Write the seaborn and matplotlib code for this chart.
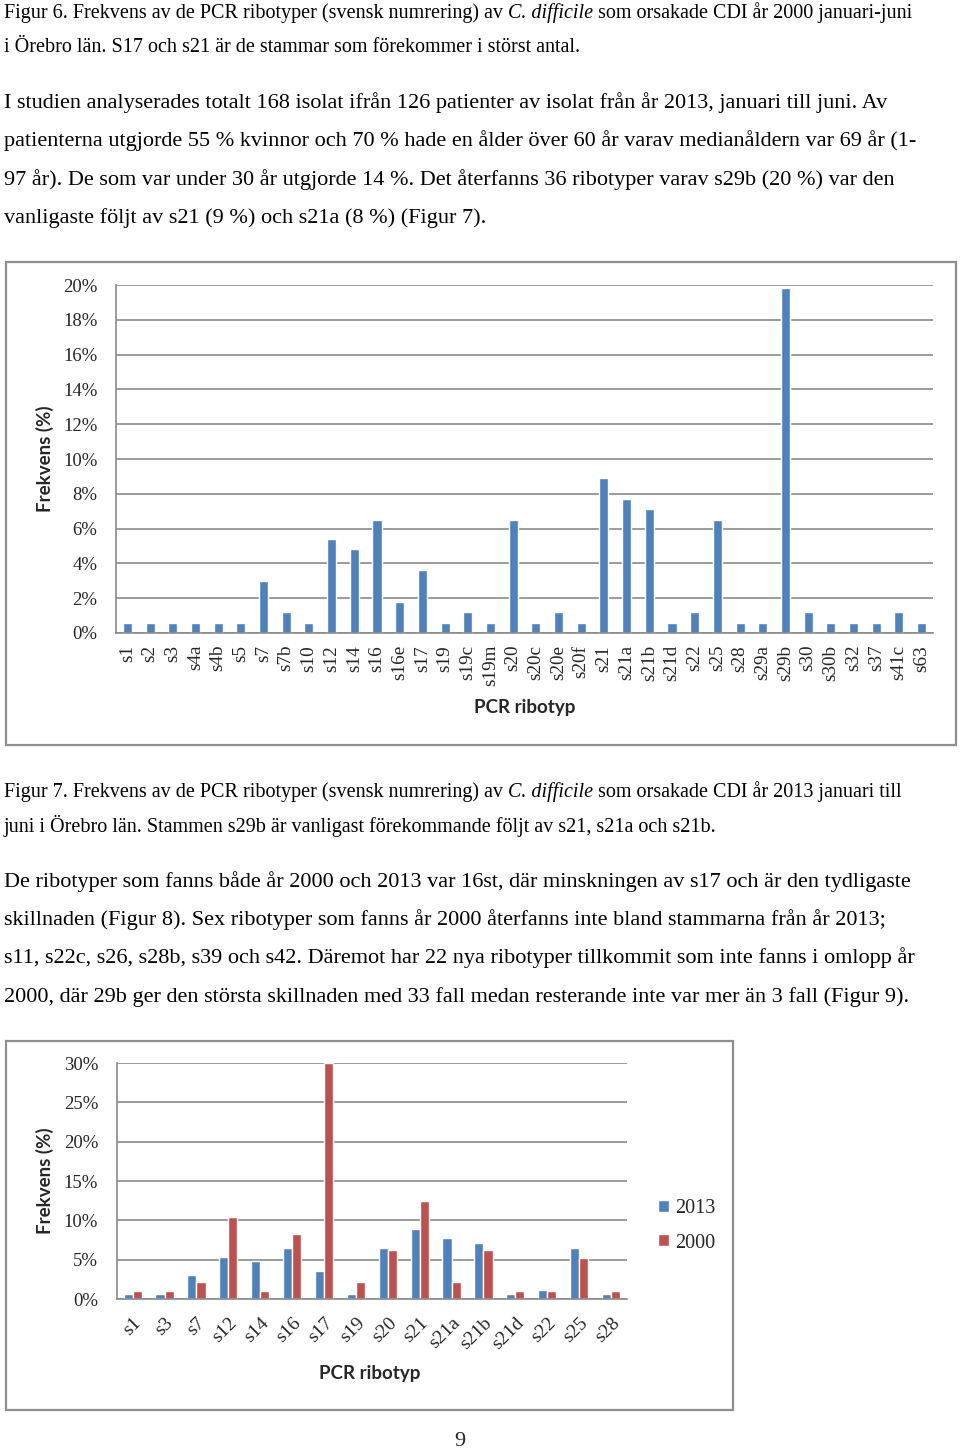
import numpy as np
import pandas as pd
import matplotlib
matplotlib.use("Agg")
import matplotlib.pyplot as plt
import seaborn as sns
from matplotlib.patches import Rectangle
from matplotlib.ticker import FuncFormatter

# ---------------- data ----------------
ribotypes_2013 = ["s1", "s2", "s3", "s4a", "s4b", "s5", "s7", "s7b", "s10", "s12",
                  "s14", "s16", "s16e", "s17", "s19", "s19c", "s19m", "s20", "s20c",
                  "s20e", "s20f", "s21", "s21a", "s21b", "s21d", "s22", "s25", "s28",
                  "s29a", "s29b", "s30", "s30b", "s32", "s37", "s41c", "s63"]
freq_2013 = [0.6, 0.6, 0.6, 0.6, 0.6, 0.6, 3.0, 1.2, 0.6, 5.4,
             4.8, 6.5, 1.8, 3.6, 0.6, 1.2, 0.6, 6.5, 0.6,
             1.2, 0.6, 8.9, 7.7, 7.1, 0.6, 1.2, 6.5, 0.6,
             0.6, 19.8, 1.2, 0.6, 0.6, 0.6, 1.2, 0.6]

common_ribotypes = ["s1", "s3", "s7", "s12", "s14", "s16", "s17", "s19", "s20",
                    "s21", "s21a", "s21b", "s21d", "s22", "s25", "s28"]
common_2013 = [0.6, 0.6, 3.0, 5.4, 4.8, 6.5, 3.6, 0.6, 6.5, 8.9, 7.7, 7.1, 0.6, 1.2, 6.5, 0.6]
common_2000 = [1.0, 1.0, 2.1, 10.4, 1.0, 8.3, 30.0, 2.1, 6.2, 12.5, 2.1, 6.2, 1.0, 1.0, 5.2, 1.0]
years = ["2013", "2000"]

yticks_fig7 = [0, 2, 4, 6, 8, 10, 12, 14, 16, 18, 20]
yticks_fig8 = [0, 5, 10, 15, 20, 25, 30]

# ---------------- style ----------------
sns.set_style("white")
SERIF = "Liberation Serif"
SANS = "Lato"
plt.rcParams["font.family"] = [SERIF, "DejaVu Serif"]

BLUE = "#4F81BD"
RED = "#C0504D"
GRID = "#8a8a8a"
FRAME = "#8f8f8f"

W, H = 960, 1452
fig = plt.figure(figsize=(W / 100, H / 100), dpi=100)
fig.patch.set_facecolor("white")
renderer = fig.canvas.get_renderer()


def fx(px):
    return px / W


def fy(py):
    return 1 - py / H


# ---------------- page text ----------------
def text_width(s, size, style="normal"):
    t = fig.text(0, 0, s, fontsize=size, fontstyle=style, family=SERIF)
    w = t.get_window_extent(renderer).width
    t.remove()
    return w


def fit_size(s, target):
    w = text_width(s, 10)
    return 10 * target / w


def draw_line(y_base, segments, size):
    x = 4.0
    space = text_width("a a", size) - text_width("aa", size)
    for txt, style in segments:
        if txt.startswith(" "):
            x += space
        t = fig.text(fx(x), fy(y_base), txt.strip(), fontsize=size, fontstyle=style,
                     family=SERIF, va="baseline", ha="left", color="black")
        x = t.get_window_extent(renderer).x1
        if txt.endswith(" "):
            x += space


cap_size = fit_size("juni i Örebro län. Stammen s29b är vanligast förekommande följt av s21, s21a och s21b.", 713)
body_size = fit_size("I studien analyserades totalt 168 isolat ifrån 126 patienter av isolat från år 2013, januari till juni. Av", 886)

draw_line(18, [("Figur 6. Frekvens av de PCR ribotyper (svensk numrering) av ", "normal"),
               ("C. difficile", "italic"),
               (" som orsakade CDI år 2000 januari-juni", "normal")], cap_size)
draw_line(52, [("i Örebro län. S17 och s21 är de stammar som förekommer i störst antal.", "normal")], cap_size)

draw_line(108, [("I studien analyserades totalt 168 isolat ifrån 126 patienter av isolat från år 2013, januari till juni. Av", "normal")], body_size)
draw_line(146, [("patienterna utgjorde 55 % kvinnor och 70 % hade en ålder över 60 år varav medianåldern var 69 år (1-", "normal")], body_size)
draw_line(185, [("97 år). De som var under 30 år utgjorde 14 %. Det återfanns 36 ribotyper varav s29b (20 %) var den", "normal")], body_size)
draw_line(223, [("vanligaste följt av s21 (9 %) och s21a (8 %) (Figur 7).", "normal")], body_size)

draw_line(797, [("Figur 7. Frekvens av de PCR ribotyper (svensk numrering) av ", "normal"),
                ("C. difficile", "italic"),
                (" som orsakade CDI år 2013 januari till", "normal")], cap_size)
draw_line(832, [("juni i Örebro län. Stammen s29b är vanligast förekommande följt av s21, s21a och s21b.", "normal")], cap_size)

draw_line(887, [("De ribotyper som fanns både år 2000 och 2013 var 16st, där minskningen av s17 och är den tydligaste", "normal")], body_size)
draw_line(925, [("skillnaden (Figur 8). Sex ribotyper som fanns år 2000 återfanns inte bland stammarna från år 2013;", "normal")], body_size)
draw_line(963, [("s11, s22c, s26, s28b, s39 och s42. Däremot har 22 nya ribotyper tillkommit som inte fanns i omlopp år", "normal")], body_size)
draw_line(1002, [("2000, där 29b ger den största skillnaden med 33 fall medan resterande inte var mer än 3 fall (Figur 9).", "normal")], body_size)

fig.text(fx(460), fy(1442), "9", fontsize=body_size, family=SERIF, ha="center", va="center")

# ---------------- chart frames ----------------
for (x0, y0, x1, y1) in [(6, 262, 956, 745), (6, 1041, 733, 1410)]:
    fig.add_artist(Rectangle((fx(x0), fy(y1)), fx(x1 - x0), (y1 - y0) / H,
                             transform=fig.transFigure, fill=False,
                             edgecolor=FRAME, linewidth=1.6))

pct = FuncFormatter(lambda v, p: f"{v:.0f}%")


def style_axes(ax, yticks, ymax):
    ax.set_ylim(0, ymax)
    ax.set_yticks(yticks)
    ax.yaxis.set_major_formatter(pct)
    ax.yaxis.grid(True, color=GRID, linewidth=1.2)
    ax.xaxis.grid(False)
    ax.set_axisbelow(True)
    for side in ["top", "right"]:
        ax.spines[side].set_visible(False)
    for side in ["left", "bottom"]:
        ax.spines[side].set_color(GRID)
        ax.spines[side].set_linewidth(1.2)
    ax.tick_params(axis="y", which="major", direction="out", length=4.8, width=1,
                   color=GRID, pad=8.6, labelsize=13.5)
    for lab in ax.get_yticklabels():
        lab.set_family(SERIF)
    ax.set_facecolor("white")


# ---------------- Figure 7 chart ----------------
ax1 = fig.add_axes([fx(116), fy(633), fx(933 - 116), (633 - 285) / H])
df1 = pd.DataFrame({"ribotyp": ribotypes_2013, "frekvens": freq_2013})
sns.barplot(data=df1, x="ribotyp", y="frekvens", color=BLUE, saturation=1,
            width=0.4, ax=ax1)
style_axes(ax1, yticks_fig7, 20)
n1 = len(ribotypes_2013)
ax1.set_xlim(-0.5, n1 - 0.5)
ax1.set_xticks(np.arange(-0.5, n1, 1), minor=True)
ax1.tick_params(axis="x", which="minor", direction="out", length=4.5, width=1, color=GRID)
ax1.tick_params(axis="x", which="major", length=0, pad=8.6)
ax1.set_xticks(range(n1))
ax1.set_xticklabels(ribotypes_2013, rotation=90, fontsize=13.8, family=SERIF,
                    ha="center", va="top")
ax1.set_xlabel("")
ax1.set_ylabel("")
fig.text(fx(45), fy(459), "Frekvens (%)", rotation=90, family=SANS, fontweight="bold",
         fontsize=13.5, ha="center", va="center")
fig.text(fx(525), fy(708), "PCR ribotyp", family=SANS, fontweight="bold",
         fontsize=13.5, ha="center", va="center")

# ---------------- Figure 8 chart ----------------
ax2 = fig.add_axes([fx(116.7), fy(1299), fx(627 - 116.7), (1299 - 1063) / H])
df2 = pd.DataFrame({
    "ribotyp": common_ribotypes * 2,
    "år": [years[0]] * len(common_ribotypes) + [years[1]] * len(common_ribotypes),
    "frekvens": common_2013 + common_2000,
})
sns.barplot(data=df2, x="ribotyp", y="frekvens", hue="år", hue_order=years,
            palette=[BLUE, RED], saturation=1, width=0.57, gap=0, ax=ax2)
style_axes(ax2, yticks_fig8, 30)
n2 = len(common_ribotypes)
ax2.set_xlim(-0.5, n2 - 0.5)
ax2.set_xticks(np.arange(-0.5, n2, 1), minor=True)
ax2.tick_params(axis="x", which="minor", direction="out", length=4.5, width=1, color=GRID)
ax2.tick_params(axis="x", which="major", length=0, pad=11)
ax2.set_xticks(range(n2))
ax2.set_xticklabels(common_ribotypes, rotation=45, fontsize=14, family=SERIF,
                    ha="right", va="top", rotation_mode="anchor")
ax2.set_xlabel("")
ax2.set_ylabel("")
leg = ax2.legend(loc="center left", bbox_to_anchor=(fx(640), fy(1226)),
                 bbox_transform=fig.transFigure, frameon=False,
                 handlelength=0.55, handleheight=0.55, handletextpad=0.3,
                 labelspacing=0.75, prop={"family": SERIF, "size": 14.5})
fig.text(fx(45), fy(1181), "Frekvens (%)", rotation=90, family=SANS, fontweight="bold",
         fontsize=13.5, ha="center", va="center")
fig.text(fx(370), fy(1373), "PCR ribotyp", family=SANS, fontweight="bold",
         fontsize=13.5, ha="center", va="center")

fig.savefig("out.png", dpi=100, facecolor="white")
